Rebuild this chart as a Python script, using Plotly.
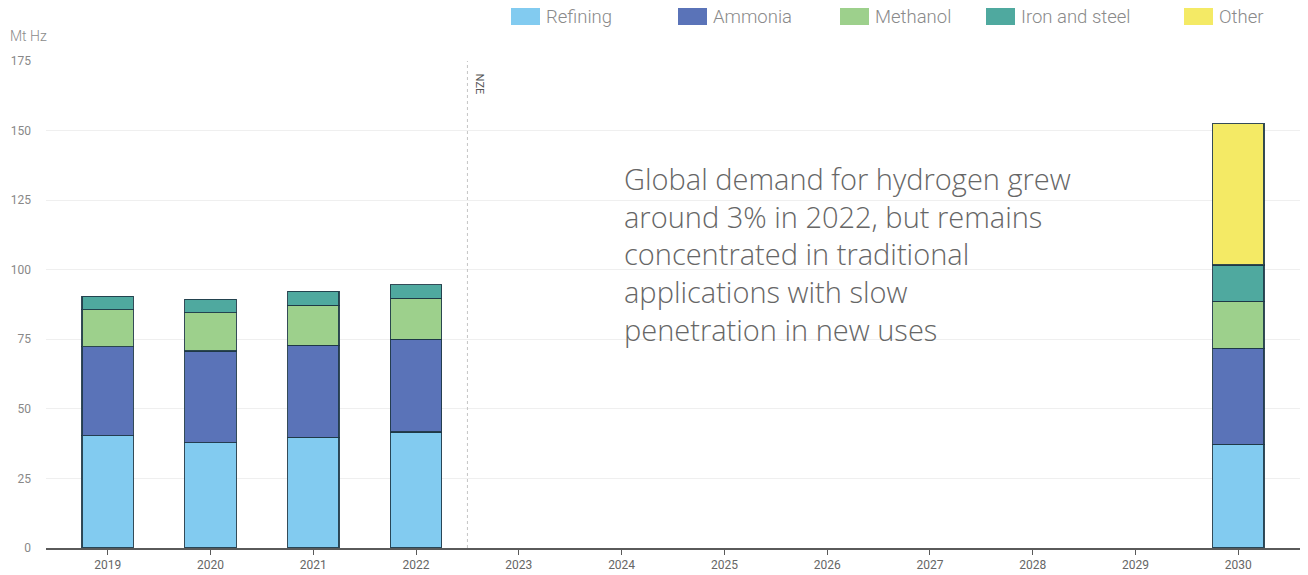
import plotly.graph_objects as go

# Hydrogen demand by application (Mt H2)
years = ["2019", "2020", "2021", "2022", "2023", "2024", "2025", "2026",
         "2027", "2028", "2029", "2030"]
series_names = ["Refining", "Ammonia", "Methanol", "Iron and steel", "Other"]
series_colors = ["#82CBF0", "#5A73B8", "#9DD08C", "#4FA99F", "#F4EA65"]

refining = [40.3, 37.8, 39.8, 41.7, None, None, None, None, None, None, None, 37.2]
ammonia = [32.0, 33.0, 33.1, 33.3, None, None, None, None, None, None, None, 34.5]
methanol = [13.3, 13.7, 14.3, 14.8, None, None, None, None, None, None, None, 17.0]
iron_steel = [4.9, 4.9, 5.1, 4.8, None, None, None, None, None, None, None, 13.0]
other = [None, None, None, None, None, None, None, None, None, None, None, 50.8]

series_values = [refining, ammonia, methanol, iron_steel, other]

y_ticks = [0, 25, 50, 75, 100, 125, 150, 175]
y_unit = "Mt Hz"
nze_label = "NZE"
note = ("Global demand for hydrogen grew<br>around 3% in 2022, but remains<br>"
        "concentrated in traditional<br>applications with slow<br>"
        "penetration in new uses")

# Plot-area geometry in pixels (used to place paper-referenced items)
W, H = 1308, 575
ML, MR, MT, MB = 46, 8, 61, 27
PW, PH = W - ML - MR, H - MT - MB


def px_x(px):
    return (px - ML) / PW


def px_y(py):
    return (H - MB - py) / PH


fig = go.Figure()
for name, color, vals in zip(series_names, series_colors, series_values):
    fig.add_trace(go.Bar(
        x=years, y=vals, name=name,
        marker=dict(color=color, line=dict(color="rgba(30,55,70,0.9)", width=1.2)),
        width=0.5, showlegend=False,
    ))

fig.update_layout(
    barmode="stack",
    width=W, height=H,
    margin=dict(l=ML, r=MR, t=MT, b=MB, autoexpand=False),
    plot_bgcolor="white", paper_bgcolor="white",
    font=dict(family="Roboto", color="#777777"),
    xaxis=dict(
        type="category", range=[-0.6, 11.6], automargin=False,
        showline=True, linecolor="#5a5a5a", linewidth=2,
        ticks="outside", ticklen=5, tickcolor="#5a5a5a", tickwidth=1,
        tickfont=dict(size=12, color="#666666", family="Roboto"),
        showgrid=False,
    ),
    yaxis=dict(
        range=[0, 175], tickvals=y_ticks, automargin=False,
        showgrid=True, gridcolor="#efefef", gridwidth=1,
        zeroline=False, showline=False,
        tickfont=dict(size=12, color="#888888", family="Roboto"),
        ticklabelstandoff=14,
    ),
)

# NZE marker between historical and projected years
fig.add_shape(type="line", xref="x", yref="paper", x0=3.5, x1=3.5, y0=0, y1=1.0,
              line=dict(color="#c4c4c4", width=1, dash="dot"))
fig.add_annotation(x=3.5, xref="x", y=175, yref="y", text=nze_label, textangle=90,
                   showarrow=False, xanchor="left", yanchor="top", xshift=4, yshift=-11,
                   font=dict(size=11, color="#555555", family="Roboto"))

# Axis unit
fig.add_annotation(x=px_x(8), y=px_y(36), xref="paper", yref="paper", text=y_unit,
                   showarrow=False, xanchor="left", yanchor="middle",
                   font=dict(size=14, color="#8a8a8a", family="Roboto", weight=300))

# Commentary text
fig.add_annotation(x=px_x(622), y=px_y(157), xref="paper", yref="paper", text=note,
                   showarrow=False, align="left", xanchor="left", yanchor="top",
                   font=dict(size=29, color="#666666", family="Open Sans", weight=300))

# Legend drawn as swatches with labels along the top
legend_x = [511, 678, 840, 986, 1184]
for name, color, lx in zip(series_names, series_colors, legend_x):
    fig.add_shape(type="rect", xref="paper", yref="paper",
                  x0=px_x(lx), x1=px_x(lx + 29), y0=px_y(25), y1=px_y(8),
                  fillcolor=color, line=dict(width=0))
    fig.add_annotation(x=px_x(lx + 33), y=px_y(17), xref="paper", yref="paper",
                       text=name, showarrow=False, xanchor="left", yanchor="middle",
                       font=dict(size=18.5, color="#8a8a8a", family="Roboto", weight=300))

fig.write_html("out.html")
